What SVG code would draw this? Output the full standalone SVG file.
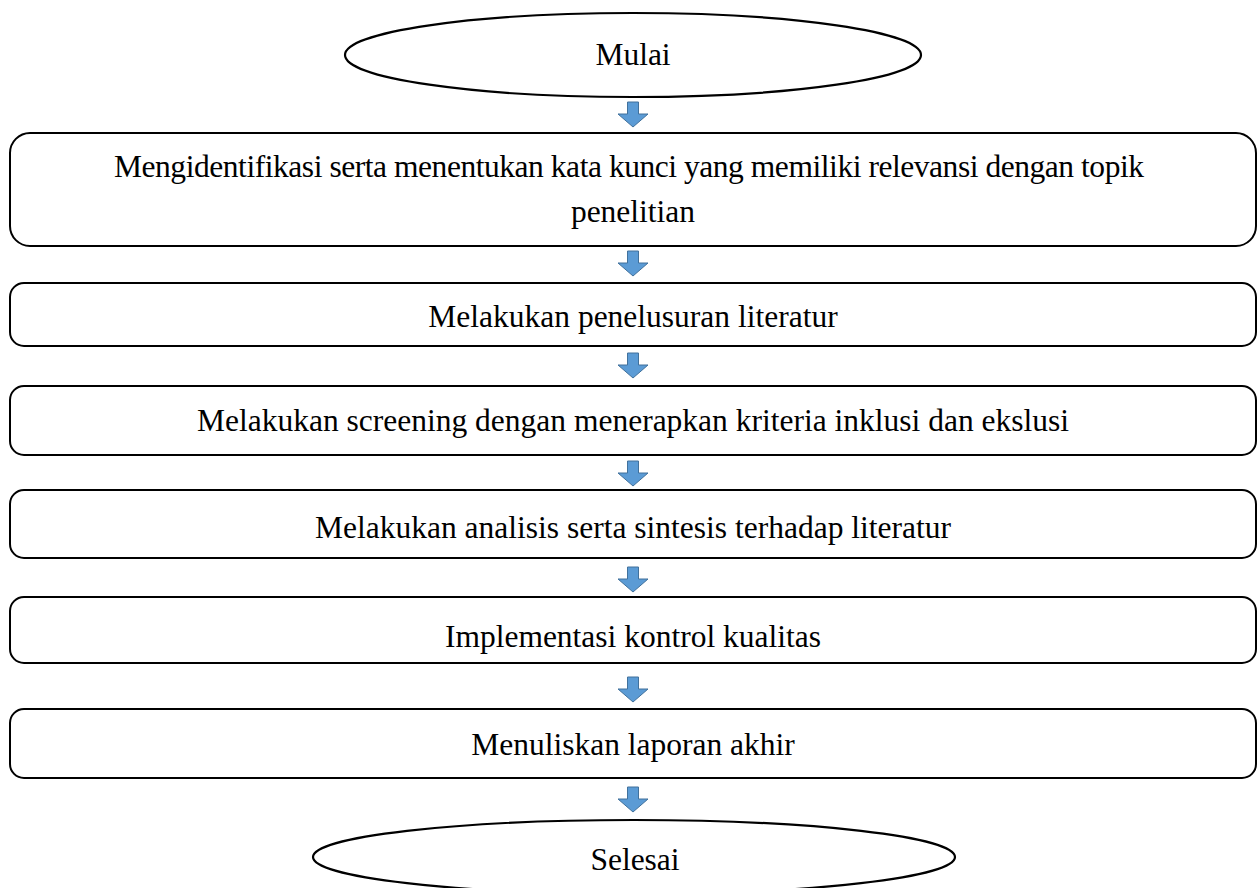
<svg xmlns="http://www.w3.org/2000/svg" width="1258" height="888" viewBox="0 0 1258 888">
<style>
.box{fill:#fff;stroke:#000;stroke-width:2}
.term{fill:#fff;stroke:#000;stroke-width:2.2}
text{font-family:'Liberation Serif','DejaVu Serif',serif;font-size:31.5px;fill:#000;text-anchor:middle}
.arr{fill:#5B9BD5;stroke:#41719C;stroke-width:1}
</style>
<defs>
<path id="ar" d="M-5.5,0 H5.5 V12 H15 L0,25 L-15,12 H-5.5 Z"/>
</defs>
<rect width="1258" height="888" fill="#fff"/>
<g id="connectors">
<use href="#ar" class="arr" x="633" y="102"/>
<use href="#ar" class="arr" x="633" y="251"/>
<use href="#ar" class="arr" x="633" y="353"/>
<use href="#ar" class="arr" x="633" y="461"/>
<use href="#ar" class="arr" x="633" y="567"/>
<use href="#ar" class="arr" x="633" y="677"/>
<use href="#ar" class="arr" x="633" y="787"/>
</g>
<g id="mulai">
<ellipse class="term" cx="633" cy="55" rx="288" ry="42"/>
<text x="633" y="65">Mulai</text>
</g>
<g id="step1">
<rect class="box" x="10" y="133" width="1246" height="113" rx="20"/>
<text x="629" y="177" textLength="1030" lengthAdjust="spacing">Mengidentifikasi serta menentukan kata kunci yang memiliki relevansi dengan topik</text>
<text x="633" y="222">penelitian</text>
</g>
<g id="step2">
<rect class="box" x="10" y="283" width="1246" height="63" rx="14"/>
<text x="633" y="327">Melakukan penelusuran literatur</text>
</g>
<g id="step3">
<rect class="box" x="10" y="386" width="1246" height="69" rx="14"/>
<text x="633" y="431">Melakukan screening dengan menerapkan kriteria inklusi dan ekslusi</text>
</g>
<g id="step4">
<rect class="box" x="10" y="490" width="1246" height="68" rx="14"/>
<text x="633" y="538">Melakukan analisis serta sintesis terhadap literatur</text>
</g>
<g id="step5">
<rect class="box" x="10" y="597" width="1246" height="66" rx="14"/>
<text x="633" y="647">Implementasi kontrol kualitas</text>
</g>
<g id="step6">
<rect class="box" x="10" y="709" width="1246" height="69" rx="14"/>
<text x="633" y="755">Menuliskan laporan akhir</text>
</g>
<g id="selesai">
<ellipse class="term" cx="634" cy="857" rx="321" ry="37"/>
<text x="635" y="870">Selesai</text>
</g>
</svg>
